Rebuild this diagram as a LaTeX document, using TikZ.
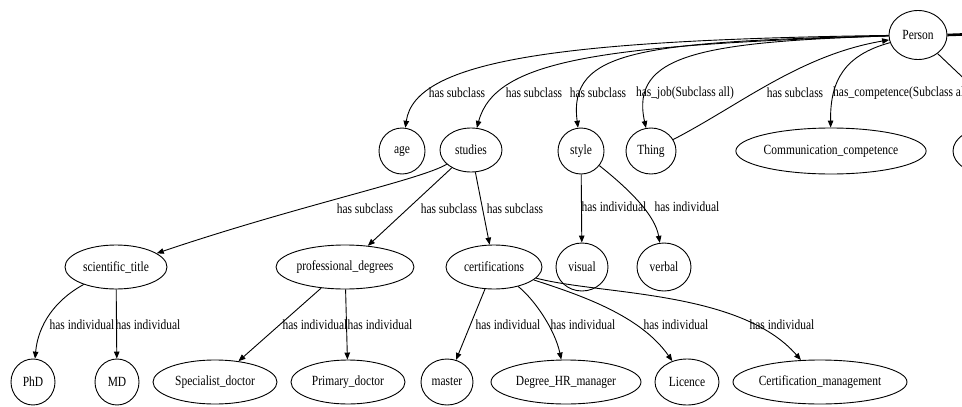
\documentclass[tikz,border=0pt]{standalone}
\usepackage{fontspec}
\setmainfont{Liberation Serif}[FakeStretch=0.82]
\usetikzlibrary{arrows.meta,shapes.geometric}

\tikzset{
  cls/.style={draw, ellipse, line width=0.9pt, inner sep=0pt,
              font=\fontsize{14}{16}\selectfont},
  sz/.style 2 args={minimum width=#1pt, minimum height=#2pt},
  edge/.style={draw, line width=0.9pt, -{Triangle[length=7pt,width=5.5pt]}},
  plain/.style={draw, line width=0.9pt},
  lbl/.style={font=\fontsize{14}{16}\selectfont, inner sep=0pt},
}

\begin{document}
\begin{tikzpicture}[x=1pt, y=-1pt]
\useasboundingbox (0,0) rectangle (962,407);
\clip (0,0) rectangle (962,407);
\fill[white] (0,0) rectangle (962,407);

% class and individual nodes
\node[cls, sz={58}{49}] (person) at (918,35) {Person};

\node[cls, sz={46}{46}]  (age)     at (402,151) {age};
\node[cls, sz={62}{44}]  (studies) at (471,150) {studies};
\node[cls, sz={46}{46}]  (style)   at (581,151) {style};
\node[cls, sz={50}{46}]  (thing)   at (651,151) {Thing};
\node[cls, sz={184}{46}] (comm)    at (831,151) {Communication\_competence};
\node[cls, sz={70}{46}]  (rnode)   at (988,151) {};

\node[cls, sz={102}{44}] (sci)     at (116,267) {scientific\_title};
\node[cls, sz={138}{44}] (prof)    at (345,267) {professional\_degrees};
\node[cls, sz={96}{44}]  (cert)    at (494,267) {certifications};
\node[cls, sz={52}{48}]  (visual)  at (582,267) {visual};
\node[cls, sz={54}{48}]  (verbal)  at (664,267) {verbal};

\node[cls, sz={44}{46}]  (phd)      at (33,382)  {PhD};
\node[cls, sz={44}{46}]  (md)       at (117,382) {MD};
\node[cls, sz={124}{44}] (spec)     at (215,382) {Specialist\_doctor};
\node[cls, sz={114}{44}] (prim)     at (348,382) {Primary\_doctor};
\node[cls, sz={52}{46}]  (master)   at (447,382) {master};
\node[cls, sz={150}{44}] (degree)   at (566,382) {Degree\_HR\_manager};
\node[cls, sz={64}{46}]  (licence)  at (687,382) {Licence};
\node[cls, sz={174}{44}] (certmgmt) at (820,382) {Certification\_management};

% edges leaving Person towards the right
\coordinate (rightA) at (975,34);
\coordinate (rightB) at (995,108);
\draw[line width=2.6pt] (person.east) -- (rightA);
\draw[plain] (person) -- (rightB);

% subclass edges of Person
\draw[edge] (person) .. controls (560,40) and (415,60) .. (age);
\draw[edge] (person) .. controls (600,45) and (495,60) .. (studies);
\draw[edge] (person) .. controls (640,42) and (568,50) .. (style);
\draw[edge] (person) .. controls (700,42) and (630,55) .. (thing);
\draw[edge] (thing) .. controls (740,105) and (800,55) .. (person);
\draw[edge] (person) .. controls (845,55) and (830,80) .. (comm);

\node[lbl] (l1) at (457,93) {has subclass};
\node[lbl] (l2) at (534,93) {has subclass};
\node[lbl] (l3) at (598,93) {has subclass};
\node[lbl] (l4) at (685,93) {has\_job(Subclass all)};
\node[lbl] (l5) at (795,93) {has subclass};
\node[lbl, anchor=west] (l6) at (833,93) {has\_competence(Subclass all)};

% studies and style
\draw[edge] (studies) .. controls (420,180) and (300,205) .. (sci);
\draw[edge] (studies) -- (prof);
\draw[edge] (studies) -- (cert);
\draw[edge] (style) -- (visual);
\draw[edge] (style) .. controls (630,190) and (655,215) .. (verbal);

\node[lbl] (l7)  at (365,209) {has subclass};
\node[lbl] (l8)  at (449,209) {has subclass};
\node[lbl] (l9)  at (515,209) {has subclass};
\node[lbl] (l10) at (614,207) {has individual};
\node[lbl] (l11) at (687,207) {has individual};

% individuals
\draw[edge] (sci) .. controls (55,300) and (38,325) .. (phd);
\draw[edge] (sci) -- (md);
\draw[edge] (prof) -- (spec);
\draw[edge] (prof) -- (prim);
\draw[edge] (cert) -- (master);
\draw[edge] (cert) .. controls (535,300) and (555,330) .. (degree);
\draw[edge] (cert) .. controls (580,295) and (640,315) .. (licence);
\draw[edge] (cert) .. controls (600,295) and (740,290) .. (certmgmt);

\node[lbl] (l12) at (82,325)  {has individual};
\node[lbl] (l13) at (148,325) {has individual};
\node[lbl] (l14) at (315,325) {has individual};
\node[lbl] (l15) at (380,325) {has individual};
\node[lbl] (l16) at (508,325) {has individual};
\node[lbl] (l17) at (583,325) {has individual};
\node[lbl] (l18) at (676,325) {has individual};
\node[lbl] (l19) at (782,325) {has individual};
\end{tikzpicture}
\end{document}
